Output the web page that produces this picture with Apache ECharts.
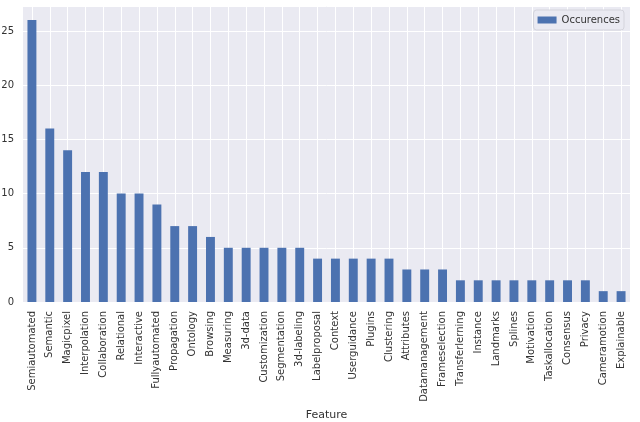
<!DOCTYPE html>
<html>
<head>
<meta charset="utf-8">
<script src="https://cdn.jsdelivr.net/npm/echarts@6/dist/echarts.min.js"></script>
<style>
  html, body { margin: 0; padding: 0; background: #fff; }
  #chart { width: 640px; height: 422px; }
</style>
</head>
<body>
<div id="chart"></div>
<script>
var features = [
  'Semiautomated', 'Semantic', 'Magicpixel', 'Interpolation', 'Collaboration', 'Relational',
  'Interactive', 'Fullyautomated', 'Propagation', 'Ontology', 'Browsing', 'Measuring',
  '3d-data', 'Customization', 'Segmentation', '3d-labeling', 'Labelproposal', 'Context',
  'Userguidance', 'Plugins', 'Clustering', 'Attributes', 'Datamanagement', 'Frameselection',
  'Transferlerning', 'Instance', 'Landmarks', 'Splines', 'Motivation', 'Taskallocation',
  'Consensus', 'Privacy', 'Cameramotion', 'Explainable'
];
var occurences = [
  26, 16, 14, 12, 12, 10,
  10, 9, 7, 7, 6, 5,
  5, 5, 5, 5, 4, 4,
  4, 4, 4, 3, 3, 3,
  2, 2, 2, 2, 2, 2,
  2, 2, 1, 1
];
var yTicks = [0, 5, 10, 15, 20, 25];

var textColor = '#333';
var font = 'DejaVu Sans';

var chart = echarts.init(document.getElementById('chart'), null, { renderer: 'canvas' });

chart.setOption({
  animation: false,
  textStyle: { fontFamily: font },
  grid: {
    left: 23, right: 10, top: 6, bottom: 120,
    outerBoundsMode: 'none',
    containLabel: false,
    show: true, backgroundColor: '#EAEAF2', borderWidth: 0
  },
  legend: {
    data: ['Occurences'],
    right: 16, top: 10,
    icon: 'rect', itemWidth: 19, itemHeight: 7, itemGap: 7,
    backgroundColor: '#EAEAF2', borderColor: '#d4d4dc', borderWidth: 1, borderRadius: 3,
    padding: [5, 4, 5, 4],
    textStyle: { color: textColor, fontSize: 10, fontFamily: font }
  },
  xAxis: {
    type: 'category',
    data: features,
    name: 'Feature',
    nameLocation: 'middle',
    nameGap: 99,
    nameTextStyle: { color: textColor, fontSize: 11, fontFamily: font },
    axisLine: { show: false },
    axisTick: { show: false },
    axisLabel: { rotate: 90, interval: 0, margin: 9, color: textColor, fontSize: 10, fontFamily: font },
    splitLine: { show: false }
  },
  yAxis: {
    type: 'value',
    min: 0, max: 27.3, interval: 5,
    axisLine: { show: false },
    axisTick: { show: false },
    axisLabel: {
      margin: 9, color: textColor, fontSize: 10, fontFamily: font, showMaxLabel: false,
      formatter: function (v) { return yTicks.indexOf(v) >= 0 ? String(v) : ''; }
    },
    splitLine: { lineStyle: { color: '#ffffff', width: 1 } }
  },
  series: [
    {
      name: 'grid-x',
      type: 'line',
      data: [],
      z: 1,
      silent: true,
      markLine: {
        z: 1,
        silent: true,
        symbol: 'none',
        label: { show: false },
        lineStyle: { color: '#ffffff', width: 1, type: 'solid' },
        data: features.map(function (f) { return { xAxis: f }; })
      }
    },
    {
      name: 'Occurences',
      type: 'bar',
      z: 3,
      barWidth: '50%',
      itemStyle: { color: '#4C72B0' },
      data: occurences
    }
  ]
});
</script>
</body>
</html>
